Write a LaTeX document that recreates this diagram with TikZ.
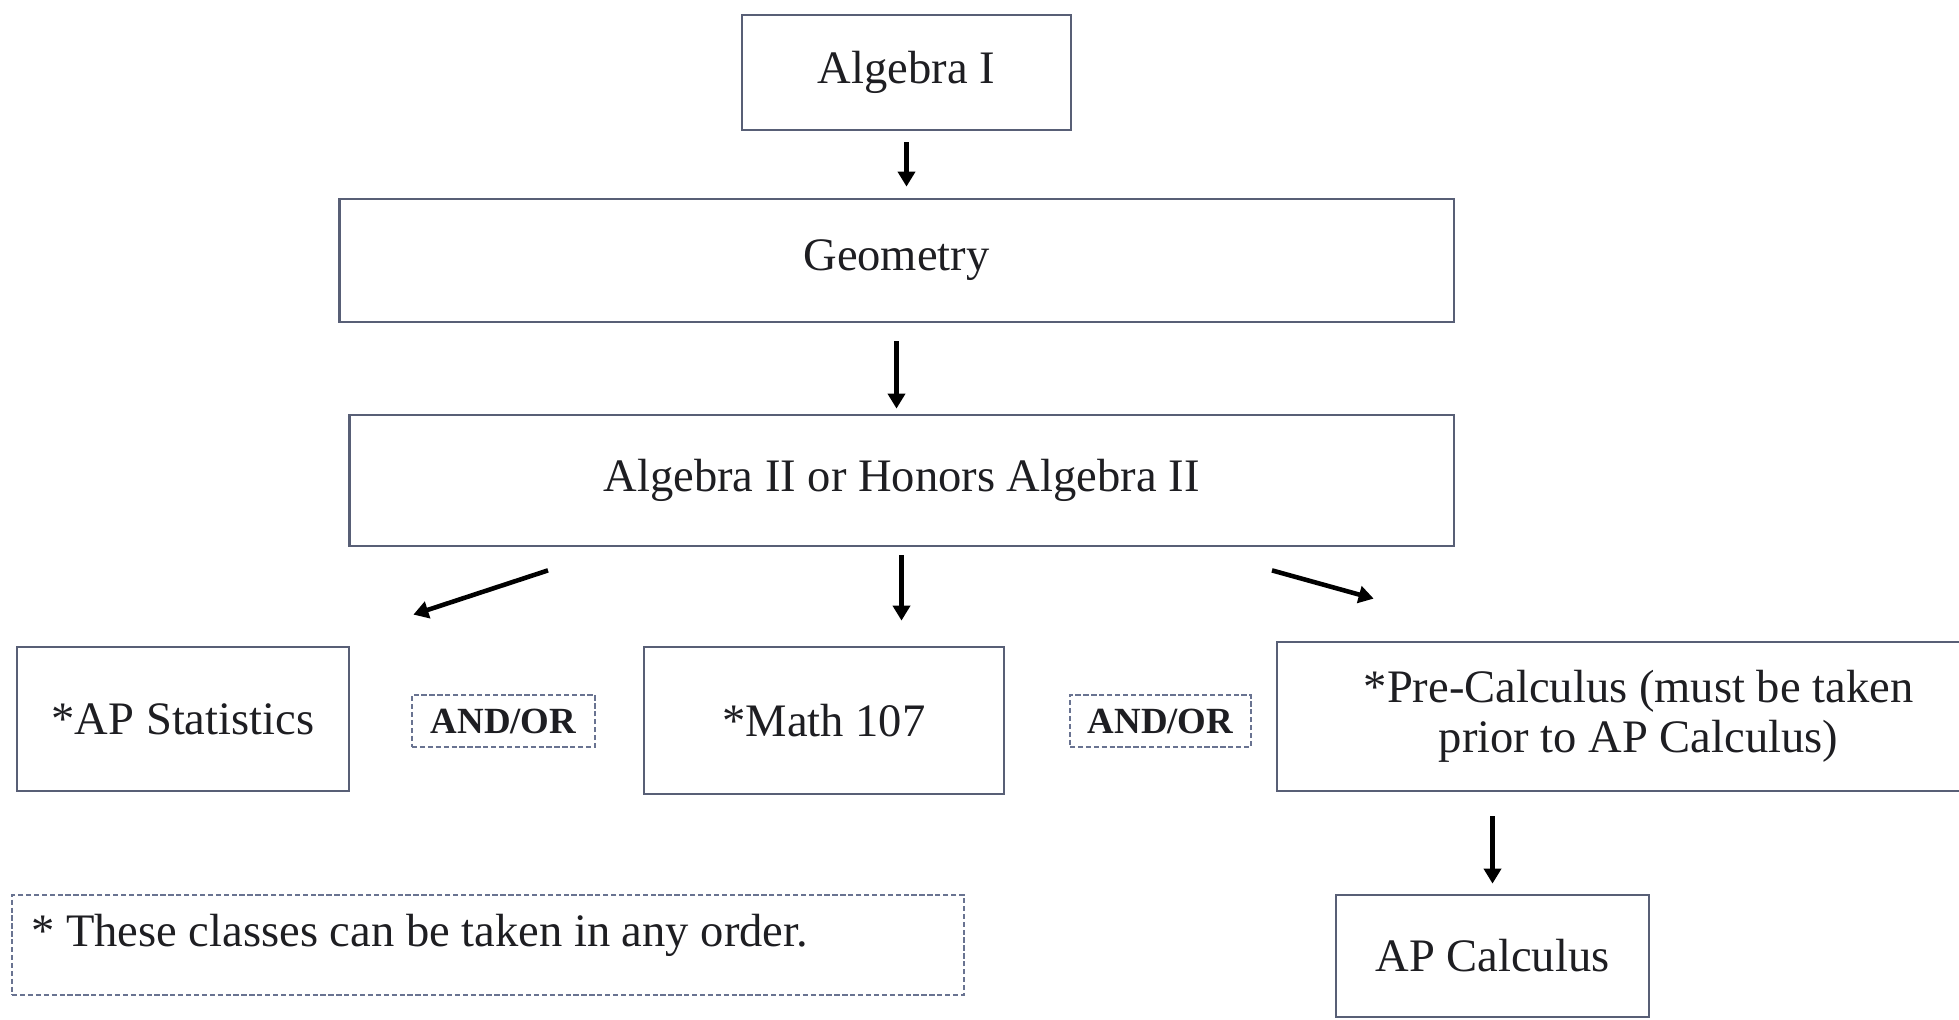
\documentclass[tikz,border=0pt]{standalone}
\usepackage{fontspec}
\setmainfont{Liberation Serif}
\usetikzlibrary{arrows.meta}
\definecolor{boxline}{RGB}{88,95,118}
\definecolor{dashline}{RGB}{105,115,145}
\definecolor{ink}{RGB}{30,30,34}
\begin{document}
\begin{tikzpicture}[x=0.02cm, y=-0.02cm]
\clip (0,0) rectangle (1959,1020);
\useasboundingbox (0,0) rectangle (1959,1020);
\begin{scope}[every node/.style = {rectangle, draw=boxline, line width=1.6pt, text=ink, align=center, inner sep=0pt, font=\fontsize{26.5}{28.5}\selectfont}]
\node[minimum width=6.58cm, minimum height=2.30cm] (alg1) at (906.5, 72.5) {Algebra I};
\node[minimum width=22.3cm, minimum height=2.46cm] (geom) at (896.5, 260.5) {Geometry};
\node[minimum width=22.1cm, minimum height=2.62cm] (alg2) at (901.5, 480.5) {Algebra II or Honors Algebra II};
\node[minimum width=6.64cm, minimum height=2.88cm] (stats) at (183, 719) {*AP Statistics};
\node[minimum width=7.2cm, minimum height=2.94cm] (math) at (824, 720.5) {*Math 107};
\node[minimum width=14.46cm, minimum height=2.98cm] (precalc) at (1638.5, 716.5) {*Pre-Calculus (must be taken\\prior to AP Calculus)};
\node[minimum width=6.26cm, minimum height=2.44cm] (apcalc) at (1492.5, 956) {AP Calculus};
\end{scope}
\begin{scope}[every node/.style = {rectangle, draw=dashline, dash pattern=on 3pt off 1.5pt, line width=1pt, text=ink, inner sep=0pt}]
\node[minimum width=3.66cm, minimum height=1.04cm, font=\fontsize{21}{24}\selectfont\bfseries] (andor1) at (503.5, 721) {AND/OR};
\node[minimum width=3.62cm, minimum height=1.04cm, font=\fontsize{21}{24}\selectfont\bfseries] (andor2) at (1160.5, 721) {AND/OR};
\node[text width=18.28cm, inner xsep=0.38cm, inner ysep=0pt, text height=1.02cm, text depth=0.98cm, align=flush left, font=\fontsize{26.5}{28.5}\selectfont] (note) at (488, 945) {* These classes can be taken in any order.};
\end{scope}
\begin{scope}[every edge/.style = {draw, line width=2.6pt, -{Triangle[length=0.3cm, width=0.34cm]}}]
\path (alg1.south) edge[shorten <=0.22cm, shorten >=0.22cm] (alg1.south |- geom.north);
\path (geom.south) edge[shorten <=0.36cm, shorten >=0.1cm] (geom.south |- alg2.north);
\path (alg2.south) edge[shorten <=0.16cm, shorten >=0.5cm] (alg2.south |- math.north);
\path ([shift={(-353.5,23)}]alg2.south) edge ([shift={(63,-31)}]stats.north east);
\path ([shift={(370.5,23)}]alg2.south) edge ([shift={(98,-42)}]precalc.north west);
\path (apcalc.north |- precalc.south) edge[shorten <=0.48cm, shorten >=0.2cm] (apcalc.north);
\end{scope}
\end{tikzpicture}
\end{document}
